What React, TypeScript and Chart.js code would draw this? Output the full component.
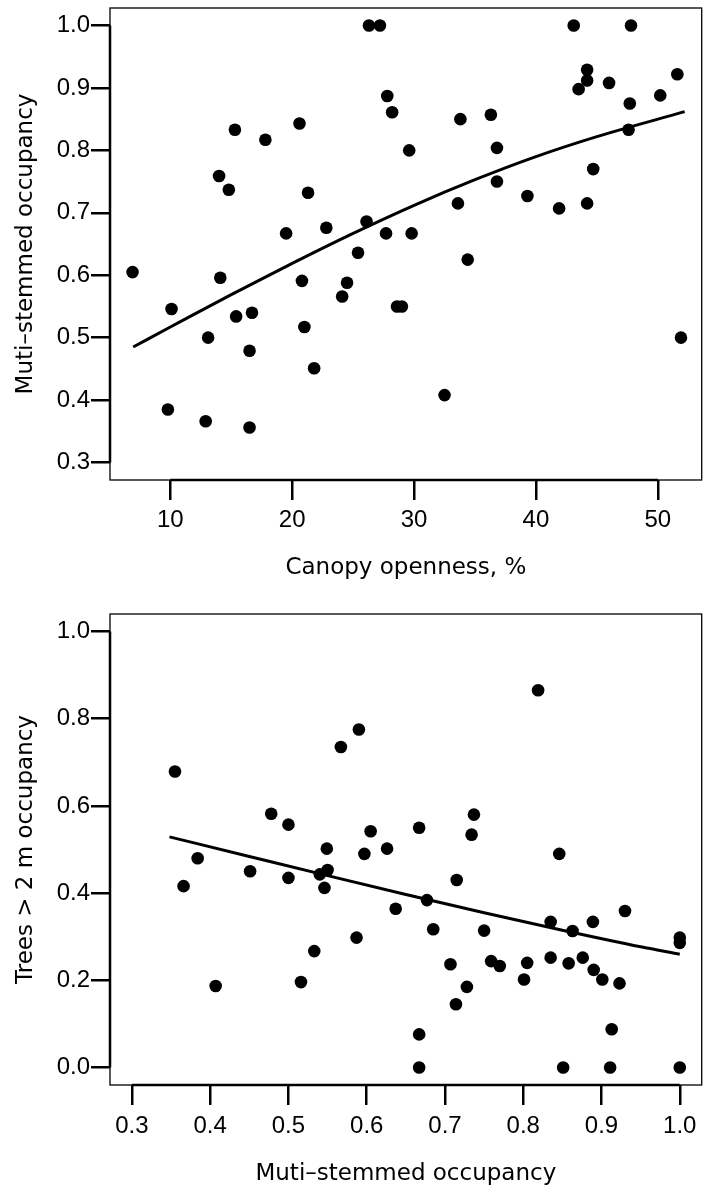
import React, { useEffect, useRef } from "react";
import { Chart, registerables } from "chart.js";

Chart.register(...registerables);

// ---- Panel A: canopy openness vs multi-stemmed occupancy ----
const canopyOpenness = [6.9, 9.8, 10.1, 12.9, 13.1, 14.0, 14.1, 14.8, 15.3, 15.4, 16.5, 16.5, 16.7, 17.8, 19.5, 20.6, 20.8, 21.0, 21.3, 21.8, 22.8, 24.1, 24.5, 25.4, 26.1, 26.3, 27.2, 27.7, 27.8, 28.2, 28.6, 29.0, 29.6, 29.8, 32.5, 33.6, 33.8, 34.4, 36.3, 36.8, 36.8, 39.3, 41.9, 43.1, 43.5, 44.2, 44.2, 44.2, 44.7, 46.0, 47.6, 47.7, 47.8, 50.2, 51.6, 51.9];
const multiStemmedA = [0.605, 0.385, 0.546, 0.366, 0.5, 0.759, 0.596, 0.737, 0.833, 0.534, 0.479, 0.356, 0.54, 0.817, 0.667, 0.843, 0.591, 0.517, 0.732, 0.451, 0.676, 0.566, 0.588, 0.636, 0.686, 1.0, 1.0, 0.667, 0.887, 0.861, 0.55, 0.55, 0.8, 0.667, 0.408, 0.715, 0.85, 0.625, 0.857, 0.804, 0.75, 0.727, 0.707, 1.0, 0.898, 0.929, 0.912, 0.715, 0.77, 0.908, 0.833, 0.875, 1.0, 0.888, 0.922, 0.5];
const fitAX = [6.95, 10, 15, 20, 25, 30, 35, 40, 45, 52.2];
const fitAY = [0.485, 0.517, 0.569, 0.619, 0.667, 0.712, 0.753, 0.79, 0.822, 0.862];
const ticksAX = [10, 20, 30, 40, 50];
const ticksAY = [0.3, 0.4, 0.5, 0.6, 0.7, 0.8, 0.9, 1.0];

// ---- Panel B: multi-stemmed occupancy vs trees > 2 m occupancy ----
const multiStemmedB = [0.355, 0.366, 0.384, 0.407, 0.451, 0.478, 0.5, 0.5, 0.516, 0.533, 0.54, 0.546, 0.549, 0.55, 0.567, 0.587, 0.59, 0.597, 0.605, 0.626, 0.637, 0.667, 0.667, 0.667, 0.677, 0.685, 0.707, 0.714, 0.715, 0.728, 0.734, 0.737, 0.75, 0.759, 0.77, 0.801, 0.805, 0.819, 0.835, 0.835, 0.846, 0.851, 0.858, 0.863, 0.876, 0.889, 0.89, 0.901, 0.911, 0.913, 0.923, 0.93, 1.0, 1.0, 1.0];
const treesOcc = [0.679, 0.416, 0.48, 0.187, 0.45, 0.582, 0.557, 0.435, 0.196, 0.267, 0.443, 0.412, 0.502, 0.453, 0.735, 0.298, 0.775, 0.49, 0.542, 0.502, 0.364, 0.55, 0.076, 0.0, 0.384, 0.317, 0.237, 0.145, 0.43, 0.185, 0.534, 0.58, 0.314, 0.244, 0.233, 0.202, 0.24, 0.865, 0.334, 0.252, 0.49, 0.0, 0.239, 0.313, 0.252, 0.334, 0.224, 0.202, 0.0, 0.088, 0.193, 0.359, 0.298, 0.286, 0.0];
const fitBX = [0.348, 0.45, 0.55, 0.65, 0.75, 0.85, 0.95, 1.0];
const fitBY = [0.529, 0.484, 0.44, 0.397, 0.355, 0.315, 0.277, 0.26];
const ticksBX = [0.3, 0.4, 0.5, 0.6, 0.7, 0.8, 0.9, 1.0];
const ticksBY = [0.0, 0.2, 0.4, 0.6, 0.8, 1.0];

const TICK_FONT = { family: "'Liberation Sans', Arial, sans-serif", size: 24 };
const TITLE_FONT = { family: "'DejaVu Sans', sans-serif", size: 23 };

const framePlugin = {
  id: "rframe",
  afterDraw(chart: any) {
    const { ctx, chartArea: a, scales } = chart;
    ctx.save();
    ctx.strokeStyle = "#000";
    ctx.lineWidth = 1.3;
    ctx.strokeRect(a.left, a.top, a.right - a.left, a.bottom - a.top);
    const xs = scales.x;
    const ys = scales.y;
    const xt = xs.ticks;
    const yt = ys.ticks;
    ctx.lineWidth = 2.5;
    ctx.beginPath();
    ctx.moveTo(xs.getPixelForValue(xt[0].value), a.bottom);
    ctx.lineTo(xs.getPixelForValue(xt[xt.length - 1].value), a.bottom);
    ctx.moveTo(a.left, ys.getPixelForValue(yt[0].value));
    ctx.lineTo(a.left, ys.getPixelForValue(yt[yt.length - 1].value));
    ctx.stroke();
    ctx.restore();
  },
};

type PanelProps = {
  xs: number[];
  ys: number[];
  fx: number[];
  fy: number[];
  xTicks: number[];
  yTicks: number[];
  xDigits: number;
  xMin: number;
  xMax: number;
  yMin: number;
  yMax: number;
  xTitle: string;
  yTitle: string;
  height: number;
  padTop: number;
  xAxisHeight: number;
  xTickPad: number;
  xTitlePad: number;
};

function Panel(p: PanelProps) {
  const ref = useRef<HTMLCanvasElement | null>(null);
  useEffect(() => {
    if (!ref.current) return;
    const pts = p.xs.map((x, i) => ({ x, y: p.ys[i] }));
    const fit = p.fx.map((x, i) => ({ x, y: p.fy[i] }));
    const chart = new Chart(ref.current, {
      type: "scatter",
      data: {
        datasets: [
          {
            type: "line",
            data: fit,
            borderColor: "#000",
            borderWidth: 3,
            pointRadius: 0,
            showLine: true,
            fill: false,
            cubicInterpolationMode: "monotone",
            order: 2,
          } as any,
          {
            data: pts,
            backgroundColor: "#000",
            borderColor: "#000",
            borderWidth: 0,
            pointRadius: 6.3,
            pointHoverRadius: 6.3,
            order: 1,
          },
        ],
      },
      options: {
        animation: false,
        responsive: false,
        devicePixelRatio: 1,
        events: [],
        layout: { padding: { top: p.padTop, right: 1.5, left: 0, bottom: 0 } },
        plugins: { legend: { display: false }, tooltip: { enabled: false } },
        scales: {
          x: {
            type: "linear",
            min: p.xMin,
            max: p.xMax,
            afterBuildTicks: (s: any) => {
              s.ticks = p.xTicks.map((v) => ({ value: v }));
            },
            afterFit: (s: any) => {
              s.height = p.xAxisHeight;
              s.paddingLeft = 0;
              s.paddingRight = 0;
            },
            ticks: {
              font: TICK_FONT,
              color: "#000",
              padding: p.xTickPad,
              maxRotation: 0,
              autoSkip: false,
              callback: (v: any) => Number(v).toFixed(p.xDigits),
            },
            grid: {
              display: true,
              drawOnChartArea: false,
              drawTicks: true,
              tickLength: 20,
              tickWidth: 2.5,
              tickColor: "#000",
              lineWidth: 2.5,
              color: "#000",
            },
            border: { display: false },
            title: {
              display: true,
              text: p.xTitle,
              font: TITLE_FONT,
              color: "#000",
              padding: { top: 0, bottom: p.xTitlePad },
            },
          },
          y: {
            type: "linear",
            min: p.yMin,
            max: p.yMax,
            afterBuildTicks: (s: any) => {
              s.ticks = p.yTicks.map((v) => ({ value: v }));
            },
            afterFit: (s: any) => {
              s.width = 110;
              s.paddingTop = 0;
              s.paddingBottom = 0;
            },
            ticks: {
              font: TICK_FONT,
              color: "#000",
              padding: 1,
              autoSkip: false,
              callback: (v: any) => Number(v).toFixed(1),
            },
            grid: {
              display: true,
              drawOnChartArea: false,
              drawTicks: true,
              tickLength: 19,
              tickWidth: 2.5,
              tickColor: "#000",
              lineWidth: 2.5,
              color: "#000",
            },
            border: { display: false },
            title: {
              display: true,
              text: p.yTitle,
              font: TITLE_FONT,
              color: "#000",
              padding: { top: 12, bottom: 0 },
            },
          },
        },
      },
      plugins: [framePlugin],
    });
    return () => chart.destroy();
  }, []);
  return <canvas ref={ref} width={708} height={p.height} style={{ display: "block" }} />;
}

export default function App() {
  return (
    <div style={{ position: "absolute", left: 0, top: 0, width: 708, height: 1194, background: "#fff" }}>
      <Panel
        xs={canopyOpenness}
        ys={multiStemmedA}
        fx={fitAX}
        fy={fitAY}
        xTicks={ticksAX}
        yTicks={ticksAY}
        xDigits={0}
        xMin={5.05}
        xMax={53.6}
        yMin={0.272}
        yMax={1.028}
        xTitle="Canopy openness, %"
        yTitle="Muti–stemmed occupancy"
        height={590}
        padTop={8}
        xAxisHeight={110}
        xTickPad={6}
        xTitlePad={8}
      />
      <Panel
        xs={multiStemmedB}
        ys={treesOcc}
        fx={fitBX}
        fy={fitBY}
        xTicks={ticksBX}
        yTicks={ticksBY}
        xDigits={1}
        xMin={0.272}
        xMax={1.028}
        yMin={-0.04}
        yMax={1.04}
        xTitle="Muti–stemmed occupancy"
        yTitle="Trees > 2 m occupancy"
        height={604}
        padTop={24}
        xAxisHeight={109}
        xTickPad={7}
        xTitlePad={6}
      />
    </div>
  );
}
